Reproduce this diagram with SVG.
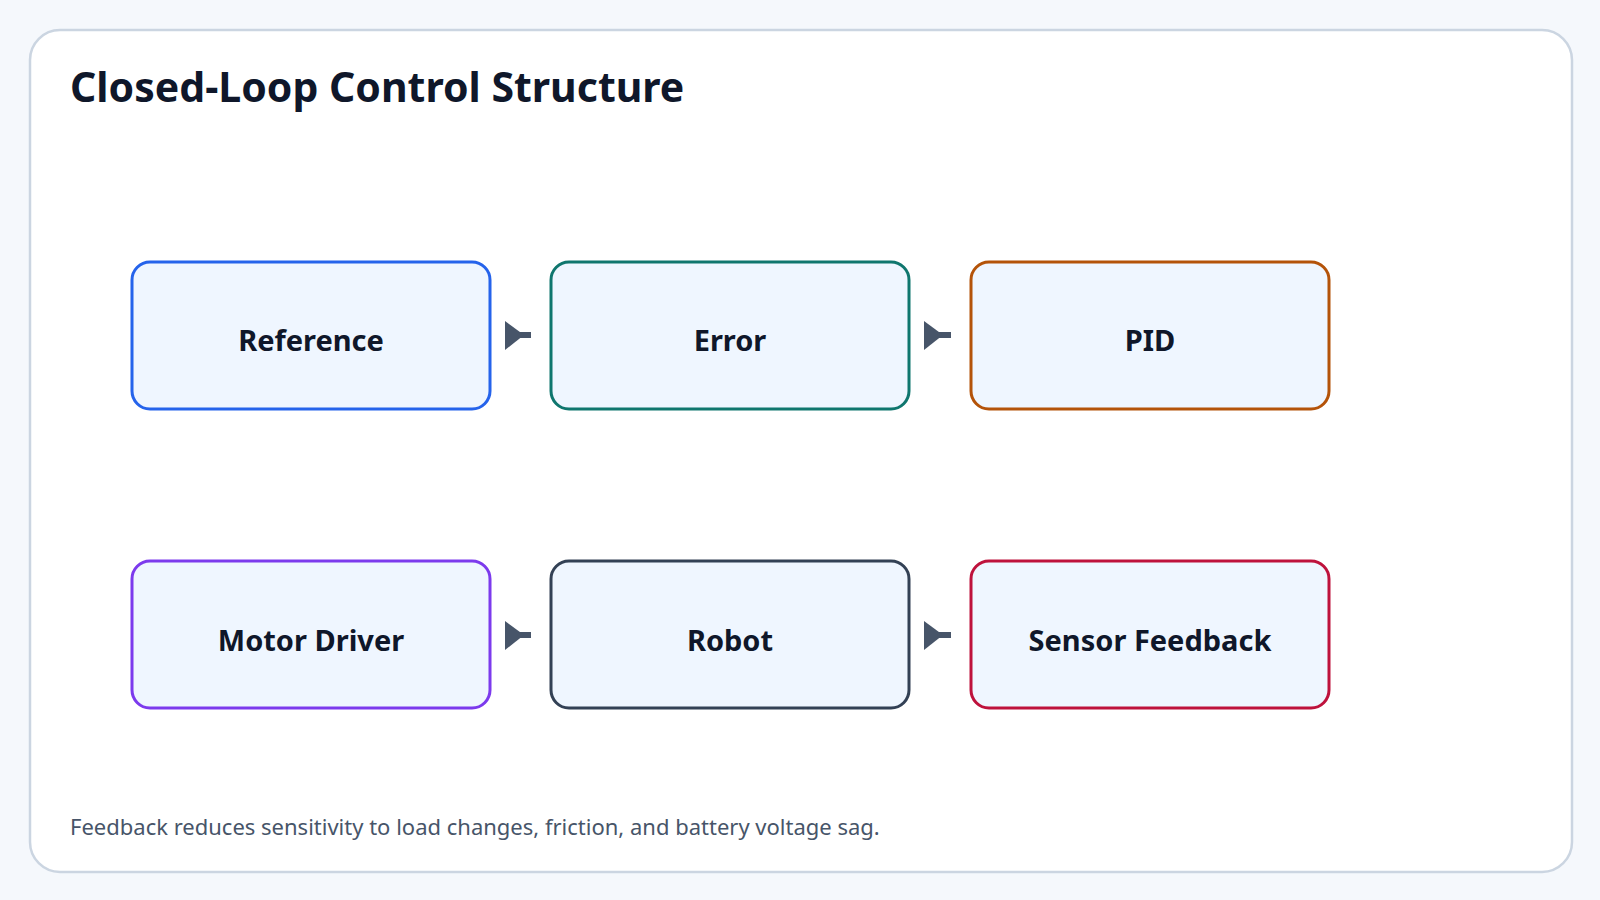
<svg xmlns="http://www.w3.org/2000/svg" width="1600" height="900" viewBox="0 0 1600 900">
<style>
.n{fill:#eff6ff;stroke-width:3}
.t{font-family:"Noto Sans","Open Sans",sans-serif;font-weight:bold;font-size:29px;fill:#0f172a;text-anchor:middle}
.c line{stroke:#475569;stroke-width:6}
.c polygon{fill:#475569}
</style>
<rect width="1600" height="900" fill="#f5f8fc"/>
<rect x="30" y="30" width="1542" height="842" rx="30" fill="#fff" stroke="#cbd5e1" stroke-width="2.5"/>
<text x="70" y="102" font-family="'Noto Sans','Open Sans',sans-serif" font-weight="bold" font-size="41" fill="#0f172a">Closed-Loop Control Structure</text>
<g id="n1"><rect class="n" x="132" y="262" width="358" height="147" rx="18" stroke="#2563eb"/><text class="t" x="311" y="351">Reference</text></g>
<g id="n2"><rect class="n" x="551" y="262" width="358" height="147" rx="18" stroke="#0f766e"/><text class="t" x="730" y="351">Error</text></g>
<g id="n3"><rect class="n" x="971" y="262" width="358" height="147" rx="18" stroke="#b45309"/><text class="t" x="1150" y="351">PID</text></g>
<g id="n4"><rect class="n" x="132" y="561" width="358" height="147" rx="18" stroke="#7c3aed"/><text class="t" x="311" y="651">Motor Driver</text></g>
<g id="n5"><rect class="n" x="551" y="561" width="358" height="147" rx="18" stroke="#334155"/><text class="t" x="730" y="651">Robot</text></g>
<g id="n6"><rect class="n" x="971" y="561" width="358" height="147" rx="18" stroke="#be123c"/><text class="t" x="1150" y="651">Sensor Feedback</text></g>
<g class="c" id="connectors">
<line x1="515" y1="335" x2="531" y2="335"/><polygon points="505,321 524,335 505,350"/>
<line x1="934" y1="335" x2="951" y2="335"/><polygon points="924,321 943,335 924,350"/>
<line x1="515" y1="635" x2="531" y2="635"/><polygon points="505,621 524,635 505,650"/>
<line x1="934" y1="635" x2="951" y2="635"/><polygon points="924,621 943,635 924,650"/>
</g>
<text x="70" y="835" font-family="'Noto Sans','Open Sans',sans-serif" font-size="22" fill="#475569">Feedback reduces sensitivity to load changes, friction, and battery voltage sag.</text>
</svg>
